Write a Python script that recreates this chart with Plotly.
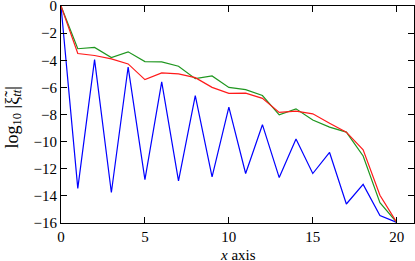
import plotly.graph_objects as go

x_vals = list(range(21))
blue_vals = [0, -13.45, -3.95, -13.75, -4.5, -12.8, -5.6, -12.9, -6.6, -12.6,
             -7.45, -12.35, -8.75, -12.65, -9.8, -12.35, -10.8, -14.6, -13.15, -15.45, -15.95]
green_vals = [0, -3.15, -3.05, -3.8, -3.38, -4.1, -4.12, -4.44, -5.36, -5.16,
              -6.0, -6.17, -6.6, -8.02, -7.58, -8.4, -8.93, -9.3, -11.06, -14.5, -15.95]
red_vals = [0, -3.5, -3.65, -3.9, -4.27, -5.43, -4.93, -5.0, -5.28, -6.0,
            -6.44, -6.42, -6.81, -7.85, -7.75, -7.95, -8.64, -9.3, -10.6, -13.95, -15.95]

x_ticks = [0, 5, 10, 15, 20]
y_ticks = [0, -2, -4, -6, -8, -10, -12, -14, -16]
y_tick_text = ["0", "−2", "−4", "−6", "−8", "−10", "−12", "−14", "−16"]

font_family = "Liberation Serif"

fig = go.Figure()
fig.add_trace(go.Scatter(x=x_vals, y=blue_vals, mode="lines",
                         line=dict(color="#0000ff", width=1.2)))
fig.add_trace(go.Scatter(x=x_vals, y=green_vals, mode="lines",
                         line=dict(color="#1f961f", width=1.2)))
fig.add_trace(go.Scatter(x=x_vals, y=red_vals, mode="lines",
                         line=dict(color="#ff1a1a", width=1.2)))

fig.update_layout(
    width=415, height=261,
    margin=dict(l=61, r=1, t=6, b=38, autoexpand=False),
    paper_bgcolor="white", plot_bgcolor="white",
    showlegend=False,
    font=dict(family=font_family, size=15, color="black"),
    xaxis=dict(range=[0, 21.03], tickvals=x_ticks, ticks="inside", ticklen=6,
               tickwidth=1, tickcolor="black", showline=True, linecolor="black",
               linewidth=1, mirror="ticks", showgrid=False, zeroline=False,
               automargin=False, ticklabeloverflow="allow"),
    yaxis=dict(range=[-16, 0.001], tickvals=y_ticks, ticktext=y_tick_text,
               ticks="inside", ticklen=6, tickwidth=1, tickcolor="black",
               showline=True, linecolor="black", linewidth=1, mirror="ticks",
               showgrid=False, zeroline=False, automargin=False,
               ticklabeloverflow="allow"),
    annotations=[
        dict(text="<i>x</i> axis", xref="paper", yref="paper", x=0.5, y=0,
             yshift=-32, showarrow=False, xanchor="center", yanchor="middle",
             font=dict(size=15)),
        dict(text="log<sub>10</sub> |ξ̃<sub><i>tt</i></sub>|", xref="paper", yref="paper",
             x=0, y=0.5, xshift=-48, yshift=-3, showarrow=False, textangle=-90,
             xanchor="center", yanchor="middle", font=dict(size=18)),
    ],
)

fig.write_html("out.html", config={"displayModeBar": False},
               post_script="document.body.style.margin='0';")
